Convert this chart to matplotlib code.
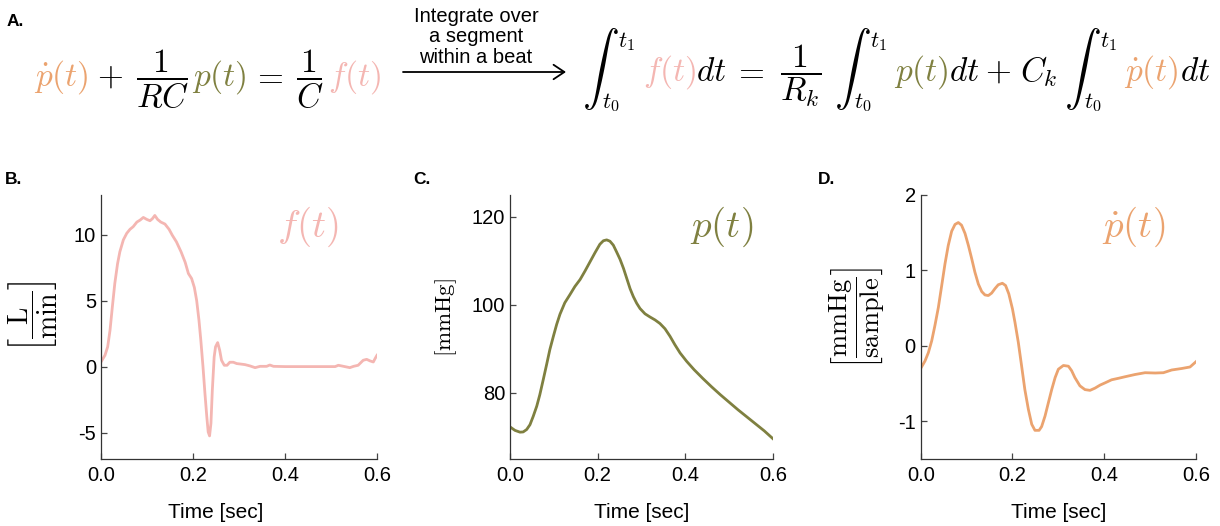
import matplotlib
matplotlib.use("Agg")
import matplotlib.pyplot as plt

plt.rcParams['font.family'] = ['Liberation Sans', 'DejaVu Sans']
plt.rcParams['mathtext.fontset'] = 'cm'
plt.rcParams['axes.unicode_minus'] = False

PINK = '#F4B6B2'
OLIVE = '#7F8040'
ORANGE = '#EBA36F'

# ---- data ----
f_time = [0.000, 0.0087, 0.0145, 0.0196, 0.0246, 0.030, 0.036, 0.041, 0.0486, 0.056,
          0.063, 0.070, 0.078, 0.085, 0.092, 0.0996, 0.1065, 0.1116, 0.117, 0.123,
          0.130, 0.139, 0.148, 0.155, 0.164, 0.174, 0.183, 0.190, 0.197, 0.2029,
          0.208, 0.213, 0.217, 0.2217, 0.226, 0.230, 0.233, 0.236, 0.239, 0.242,
          0.246, 0.249, 0.2536, 0.258, 0.262, 0.268, 0.274, 0.280, 0.2877, 0.295,
          0.302, 0.313, 0.324, 0.335, 0.3457, 0.360, 0.367, 0.375, 0.400, 0.450,
          0.509, 0.516, 0.530, 0.541, 0.549, 0.559, 0.570, 0.5775, 0.585, 0.592,
          0.5957, 0.600]
f_flow = [0.35, 0.86, 1.5, 2.75, 4.5, 6.3, 7.8, 8.7, 9.6, 10.1,
          10.4, 10.6, 10.95, 11.1, 11.3, 11.15, 11.05, 11.2, 11.45, 11.15,
          10.95, 10.8, 10.4, 9.95, 9.45, 8.7, 7.9, 7.05, 6.67, 6.0,
          5.0, 3.5, 2.0, 0.0, -2.05, -3.8, -4.95, -5.25, -4.3, -1.8,
          0.73, 1.5, 1.82, 1.24, 0.48, 0.1, 0.1, 0.33, 0.33, 0.23,
          0.2, 0.15, 0.05, -0.08, 0.02, 0.02, 0.12, 0.02, 0.0, 0.0,
          0.0, 0.1, 0.0, -0.08, 0.02, 0.1, 0.48, 0.55, 0.43, 0.35,
          0.6, 0.86]

p_time = [0.000, 0.0114, 0.0228, 0.030, 0.038, 0.0456, 0.053, 0.061, 0.068, 0.076,
          0.0836, 0.091, 0.099, 0.1065, 0.114, 0.125, 0.137, 0.148, 0.160, 0.171,
          0.1825, 0.194, 0.205, 0.213, 0.2205, 0.228, 0.2357, 0.243, 0.251, 0.259,
          0.2665, 0.274, 0.2814, 0.289, 0.2966, 0.308, 0.319, 0.331, 0.342, 0.3536,
          0.365, 0.376, 0.388, 0.403, 0.420, 0.440, 0.460, 0.480, 0.500, 0.520,
          0.540, 0.560, 0.580, 0.600]
p_press = [72.3, 71.5, 71.1, 71.15, 71.7, 72.8, 74.7, 77.0, 79.6, 83.1,
           86.5, 89.9, 92.9, 95.6, 97.9, 100.5, 102.4, 104.2, 105.8, 107.7,
           109.8, 111.9, 113.8, 114.6, 114.8, 114.5, 113.6, 112.1, 110.4, 108.3,
           106.0, 103.7, 101.9, 100.4, 99.2, 98.0, 97.3, 96.6, 95.8, 94.6,
           92.9, 91.0, 89.1, 87.2, 85.3, 83.3, 81.4, 79.6, 77.9, 76.2,
           74.6, 73.0, 71.4, 69.6]

d_time = [0.000, 0.0094, 0.0167, 0.024, 0.031, 0.0385, 0.0458, 0.053, 0.060, 0.0675,
          0.0748, 0.082, 0.089, 0.0966, 0.104, 0.111, 0.118, 0.1256, 0.133, 0.140,
          0.1474, 0.1547, 0.162, 0.169, 0.178, 0.185, 0.192, 0.200, 0.2055, 0.2128,
          0.220, 0.227, 0.2346, 0.242, 0.249, 0.258, 0.2636, 0.271, 0.278, 0.2855,
          0.293, 0.300, 0.311, 0.322, 0.329, 0.336, 0.347, 0.358, 0.369, 0.380,
          0.391, 0.402, 0.416, 0.431, 0.445, 0.467, 0.489, 0.511, 0.529, 0.547,
          0.569, 0.587, 0.600]
d_rate = [-0.30, -0.20, -0.09, 0.067, 0.27, 0.51, 0.80, 1.09, 1.33, 1.52,
          1.61, 1.635, 1.60, 1.49, 1.33, 1.16, 0.98, 0.82, 0.72, 0.675,
          0.667, 0.70, 0.76, 0.81, 0.83, 0.80, 0.69, 0.49, 0.31, 0.044,
          -0.27, -0.58, -0.84, -1.04, -1.12, -1.12, -1.07, -0.93, -0.76, -0.58,
          -0.42, -0.31, -0.26, -0.27, -0.33, -0.42, -0.53, -0.58, -0.59, -0.56,
          -0.52, -0.49, -0.45, -0.43, -0.41, -0.38, -0.356, -0.36, -0.356, -0.32,
          -0.30, -0.28, -0.21]

x_ticks = [0.0, 0.2, 0.4, 0.6]
x_tick_labels = ['0.0', '0.2', '0.4', '0.6']
b_yticks = [-5, 0, 5, 10]
c_yticks = [80, 100, 120]
d_yticks = [-1, 0, 1, 2]

W, H = 1220, 526
fig = plt.figure(figsize=(W / 100, H / 100), dpi=100)


def fx(x):
    return x / W


def fy(y):
    return 1 - y / H


def make_ax(left, right, top, bottom):
    return fig.add_axes([fx(left), fy(bottom), fx(right - left), (bottom - top) / H])


axB = make_ax(101, 377, 195, 459)
axC = make_ax(510, 773, 195, 459)
axD = make_ax(920.7, 1196, 195, 459)

axB.plot(f_time, f_flow, color=PINK, lw=2.0, solid_joinstyle='round')
axC.plot(p_time, p_press, color=OLIVE, lw=2.0)
axD.plot(d_time, d_rate, color=ORANGE, lw=2.0)

axB.set_ylim(-7, 13)
axC.set_ylim(65, 125)
axD.set_ylim(-1.5, 2)
axB.set_yticks(b_yticks)
axC.set_yticks(c_yticks)
axD.set_yticks(d_yticks)

for ax in (axB, axC, axD):
    ax.set_xlim(0, 0.6)
    ax.set_xticks(x_ticks)
    ax.set_xticklabels(x_tick_labels)
    for s in ('top', 'right'):
        ax.spines[s].set_visible(False)
    for s in ('left', 'bottom'):
        ax.spines[s].set_color('#333333')
        ax.spines[s].set_linewidth(0.9)
    ax.tick_params(direction='in', length=4, width=0.9, color='#444444',
                   labelsize=14.5, labelcolor='black')
    ax.tick_params(axis='x', pad=5)
    ax.tick_params(axis='y', pad=3.5)
    ax.set_xlabel('Time [sec]', fontsize=15, color='black')
    ax.xaxis.set_label_coords(0.5, -0.168)

axB.xaxis.set_label_coords(0.415, -0.168)

axB.text(0.86, 0.84, r'$f(t)$', color=PINK, fontsize=28, ha='right',
         va='baseline', transform=axB.transAxes)
axC.text(0.925, 0.84, r'$p(t)$', color=OLIVE, fontsize=28, ha='right',
         va='baseline', transform=axC.transAxes)
axD.text(0.888, 0.84, r'$\dot{p}(t)$', color=ORANGE, fontsize=28, ha='right',
         va='baseline', transform=axD.transAxes)

fig.text(fx(33), fy(316), r'$\left[\dfrac{\mathrm{L}}{\mathrm{min}}\right]$',
         rotation=90, ha='center', va='center', fontsize=20)
fig.text(fx(446), fy(318), r'$[\mathrm{mmHg}]$',
         rotation=90, ha='center', va='center', fontsize=16.5)
fig.text(fx(857), fy(318), r'$\left[\dfrac{\mathrm{mmHg}}{\mathrm{sample}}\right]$',
         rotation=90, ha='center', va='center', fontsize=19)

for lab, x, y in (('A.', 7, 21), ('B.', 5, 179), ('C.', 413, 179), ('D.', 818, 179)):
    fig.text(fx(x), fy(y), lab, fontsize=12.5, fontweight='bold', ha='left', va='center')

# ---- equation row (pieces centred at their places in the layout) ----
K = 'black'
EQ = 24
LIM = 16.5


def piece(s, xc, yb, c=K, size=EQ):
    fig.text(fx(xc), fy(yb), s, color=c, fontsize=size, ha='center', va='baseline')


def integral(x, yb):
    fig.text(fx(x), fy(yb - 12), r'$\int$', fontsize=26.5, ha='left', va='center')
    fig.text(fx(x + 36), fy(yb - 34), r'$t_1$', fontsize=LIM, ha='left', va='baseline')
    fig.text(fx(x + 20), fy(yb + 27), r'$t_0$', fontsize=LIM, ha='left', va='baseline')


yl = 86
left_eq = [(r'$\dot{p}(t)$', ORANGE, 61.5),
           (r'$+$', K, 110),
           (r'$\dfrac{1}{RC}$', K, 162.5),
           (r'$p(t)$', OLIVE, 219),
           (r'$=$', K, 268),
           (r'$\dfrac{1}{C}$', K, 310),
           (r'$f(t)$', PINK, 355)]
for s, c, xc in left_eq:
    piece(s, xc, yl, c)

yr = 81
right_eq = [(r'$f(t)$', PINK, 670),
            (r'$dt$', K, 711),
            (r'$=$', K, 748.5),
            (r'$\dfrac{1}{R_k}$', K, 801),
            (r'$p(t)$', OLIVE, 921),
            (r'$dt$', K, 964),
            (r'$+$', K, 998),
            (r'$C_k$', K, 1039),
            (r'$\dot{p}(t)$', ORANGE, 1151.5),
            (r'$dt$', K, 1195)]
for s, c, xc in right_eq:
    piece(s, xc, yr, c)
for xi in (582, 834, 1064):
    integral(xi, yr)

fig.text(fx(476), fy(37), 'Integrate over\na segment\nwithin a beat', ha='center',
         va='center', fontsize=14.5, linespacing=1.08)
fig.add_artist(matplotlib.patches.FancyArrowPatch(
    (fx(403), fy(72)), (fx(566), fy(72)), transform=fig.transFigure,
    arrowstyle='->,head_length=6,head_width=4', color='black', lw=1.3,
    mutation_scale=1.3, shrinkA=0, shrinkB=0))

fig.savefig('out.png', dpi=100)
